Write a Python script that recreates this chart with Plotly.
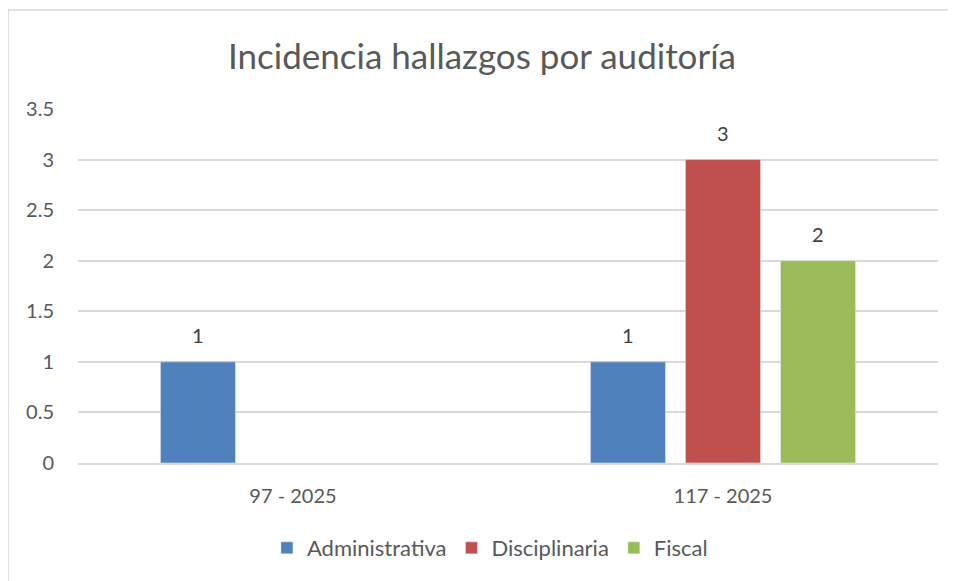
import plotly.graph_objects as go

categories = ["97 - 2025", "117 - 2025"]
administrativa = [1, 1]
disciplinaria = [None, 3]
fiscal = [None, 2]
series_names = ["Administrativa", "Disciplinaria", "Fiscal"]
colors = ["#4F81BD", "#C0504D", "#9BBB59"]
y_ticks = [0, 0.5, 1, 1.5, 2, 2.5, 3, 3.5]
y_tick_labels = ["0", "0.5", "1", "1.5", "2", "2.5", "3", "3.5"]

# page body has an 8px margin, so the figure is 8px smaller than the window
W, H = 948, 573
ml, mr, mt, mb = 70, 18, 101, 118
text_color = "#595959"
font_family = "Lato, 'Open Sans', sans-serif"
bargap = 0.337
bargroupgap = 0.21

pw = W - ml - mr
ph = H - mt - mb
slot_px = pw / len(categories) * (1 - bargap) / len(series_names)

fig = go.Figure()
all_vals = [administrativa, disciplinaria, fiscal]
for name, vals, col in zip(series_names, all_vals, colors):
    fig.add_trace(go.Bar(name=name, x=categories, y=vals, marker_color=col))

annotations = []
for k, vals in enumerate(all_vals):
    for cat, v in zip(categories, vals):
        if v is None:
            continue
        annotations.append(dict(
            x=cat, y=v, xref="x", yref="y", text=str(v), showarrow=False,
            xshift=(k - (len(series_names) - 1) / 2) * slot_px, yshift=27,
            yanchor="middle", font=dict(size=20, color="#404040", family=font_family),
        ))

bx0 = (0 - ml) / pw
by1 = 1 + (mt - 2) / ph

fig.update_layout(
    width=W, height=H,
    margin=dict(l=ml, r=mr, t=mt, b=mb),
    paper_bgcolor="white", plot_bgcolor="white",
    barmode="group", bargap=bargap, bargroupgap=bargroupgap,
    title=dict(text="Incidencia hallazgos por auditoría", x=0.5, xanchor="center",
               y=1 - 49 / H, yanchor="middle",
               font=dict(size=35, color=text_color, family=font_family)),
    font=dict(family=font_family, color=text_color, size=20),
    xaxis=dict(showgrid=False, showline=True, linecolor="#D9D9D9", linewidth=1.5,
               ticks="", tickfont=dict(size=20, color=text_color), ticklabelstandoff=14),
    yaxis=dict(range=[0, 3.5], tickvals=y_ticks, ticktext=y_tick_labels,
               showgrid=True, gridcolor="#D9D9D9", gridwidth=1.5, zeroline=False,
               showline=False, ticks="", tickfont=dict(size=20, color=text_color),
               ticklabelstandoff=23),
    legend=dict(orientation="h", x=0.479, xanchor="center", y=-85 / ph, yanchor="middle",
                font=dict(size=22, color=text_color), itemwidth=30, traceorder="normal"),
    showlegend=True,
    annotations=annotations,
    shapes=[
        dict(type="line", xref="paper", yref="paper", x0=bx0, x1=bx0, y0=by1, y1=-1,
             line=dict(color="#D9D9D9", width=1.5)),
        dict(type="line", xref="paper", yref="paper", x0=bx0, x1=2, y0=by1, y1=by1,
             line=dict(color="#D9D9D9", width=1.5)),
    ],
)

fig.write_html("out.html")
